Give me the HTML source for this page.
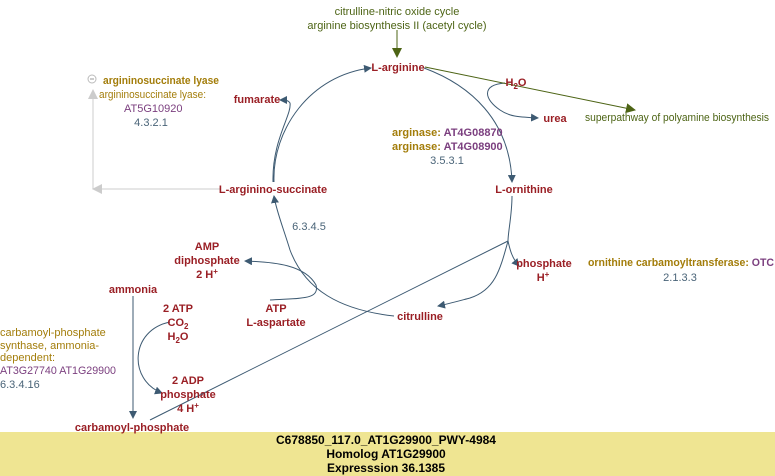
<!DOCTYPE html>
<html><head><style>
body{margin:0;background:#fff}
svg{display:block;font-family:"Liberation Sans",sans-serif}
.m{fill:#9a1f25;font-weight:bold;font-size:11px}
.o{fill:#a37d0a;font-size:11px}
.ob{fill:#a37d0a;font-size:11px;font-weight:bold}
.p{fill:#7b3f7f;font-size:11px}
.pb{fill:#7b3f7f;font-size:11px;font-weight:bold}
.e{fill:#4a6478;font-size:11px}
.g{fill:#4d6415;font-size:11px}
.b{fill:#000;font-weight:bold;font-size:12px}
</style></head><body>
<svg width="775" height="476" viewBox="0 0 775 476">
<defs>
<marker id="a" markerWidth="8" markerHeight="8" refX="7" refY="4" orient="auto" markerUnits="userSpaceOnUse"><path d="M0,0 L8,4 L0,8z" fill="#3d5a72"/></marker>
<marker id="gr" markerWidth="10" markerHeight="10" refX="9" refY="5" orient="auto" markerUnits="userSpaceOnUse"><path d="M0,0 L10,5 L0,10z" fill="#4d6415"/></marker>
<marker id="gy" markerWidth="10" markerHeight="10" refX="9" refY="5" orient="auto" markerUnits="userSpaceOnUse"><path d="M0,0 L10,5 L0,10z" fill="#ccc"/></marker>
</defs>
<g fill="none" stroke="#3d5a72" stroke-width="1">
<path d="M274,182 C272,130 310,75 371,68" marker-end="url(#a)"/>
<path d="M273,182 C272,140 292,115 290,103 C288,100 285,100 280,100" marker-end="url(#a)"/>
<path d="M424,68 C470,85 510,120 512,182" marker-end="url(#a)"/>
<path d="M505,83 C480,85 485,100 500,110 C510,117 520,117 538,118" marker-end="url(#a)"/>
<path d="M512,196 C512,215 508,232 508,241"/>
<path d="M508,241 C500,270 495,290 470,298 C455,302 448,304 438,306" marker-end="url(#a)"/>
<path d="M508,241 C510,250 512,258 519,266" marker-end="url(#a)"/>
<path d="M508,241 L150,420"/>
<path d="M394,316 C340,310 305,290 290,250 C284,230 276,210 274,196" marker-end="url(#a)"/>
<path d="M270,300 C300,298 320,300 316,285 C305,265 275,262 245,261" marker-end="url(#a)"/>
<path d="M133,296 L133,418" marker-end="url(#a)"/>
<path d="M170,322 C130,330 128,380 162,393" marker-end="url(#a)"/>
</g>
<path d="M397,30 L397,57" stroke="#4d6415" fill="none" marker-end="url(#gr)"/>
<path d="M425,67 L635,110" stroke="#4d6415" fill="none" marker-end="url(#gr)"/>
<path d="M220,189 L93,189 L93,90" stroke="#ccc" fill="none" marker-end="url(#gy)"/>
<path d="M100,189 L93,189" stroke="#ccc" marker-end="url(#gy)" fill="none"/>
<circle cx="92" cy="79" r="4" fill="none" stroke="#bbb"/><line x1="90" y1="79" x2="94" y2="79" stroke="#999"/>
<rect x="0" y="432" width="775" height="44" fill="#efe592"/>
<g text-anchor="middle">
<text class="g" x="397" y="15">citrulline-nitric oxide cycle</text>
<text class="g" x="397" y="29">arginine biosynthesis II (acetyl cycle)</text>
<text class="m" x="398" y="71">L-arginine</text>
<text class="m" x="257" y="103">fumarate</text>
<text class="m" x="516" y="86">H<tspan font-size="8" dy="3">2</tspan><tspan dy="-3">O</tspan></text>
<text class="m" x="555" y="122">urea</text>
<text class="e" x="447" y="164">3.5.3.1</text>
<text class="m" x="524" y="193">L-ornithine</text>
<text class="m" x="273" y="193">L-arginino-succinate</text>
<text class="e" x="309" y="230">6.3.4.5</text>
<text class="m" x="544" y="267">phosphate</text>
<text class="m" x="543" y="281">H<tspan font-size="8" dy="-4">+</tspan></text>
<text class="e" x="680" y="281">2.1.3.3</text>
<text class="m" x="420" y="320">citrulline</text>
<text class="m" x="207" y="250">AMP</text>
<text class="m" x="207" y="264">diphosphate</text>
<text class="m" x="207" y="278">2 H<tspan font-size="8" dy="-4">+</tspan></text>
<text class="m" x="276" y="312">ATP</text>
<text class="m" x="276" y="326">L-aspartate</text>
<text class="m" x="133" y="293">ammonia</text>
<text class="m" x="178" y="312">2 ATP</text>
<text class="m" x="178" y="326">CO<tspan font-size="8" dy="3">2</tspan></text>
<text class="m" x="178" y="340">H<tspan font-size="8" dy="3">2</tspan><tspan dy="-3">O</tspan></text>
<text class="m" x="188" y="384">2 ADP</text>
<text class="m" x="188" y="398">phosphate</text>
<text class="m" x="188" y="412">4 H<tspan font-size="8" dy="-4">+</tspan></text>
<text class="m" x="132" y="431">carbamoyl-phosphate</text>
<text class="e" x="151" y="126">4.3.2.1</text>
<text class="b" x="386" y="444">C678850_117.0_AT1G29900_PWY-4984</text>
<text class="b" x="386" y="458">Homolog AT1G29900</text>
<text class="b" x="386" y="472">Expresssion 36.1385</text>
</g>
<text class="o" x="99" y="98" textLength="107" lengthAdjust="spacingAndGlyphs">argininosuccinate lyase:</text>
<text class="p" x="124" y="112">AT5G10920</text>
<text class="g" x="585" y="121" textLength="184" lengthAdjust="spacingAndGlyphs">superpathway of polyamine biosynthesis</text>
<text class="ob" x="103" y="84" textLength="116" lengthAdjust="spacingAndGlyphs">argininosuccinate lyase</text>
<text class="ob" x="392" y="136">arginase: <tspan class="pb">AT4G08870</tspan></text>
<text class="ob" x="392" y="150">arginase: <tspan class="pb">AT4G08900</tspan></text>
<text class="ob" x="588" y="266" textLength="186" lengthAdjust="spacingAndGlyphs">ornithine carbamoyltransferase: <tspan class="pb">OTC</tspan></text>
<text class="o" x="0" y="336">carbamoyl-phosphate</text>
<text class="o" x="0" y="349">synthase, ammonia-</text>
<text class="o" x="0" y="361">dependent:</text>
<text class="p" x="0" y="374" textLength="116" lengthAdjust="spacingAndGlyphs">AT3G27740  AT1G29900</text>
<text class="e" x="0" y="388">6.3.4.16</text>
</svg>
</body></html>
